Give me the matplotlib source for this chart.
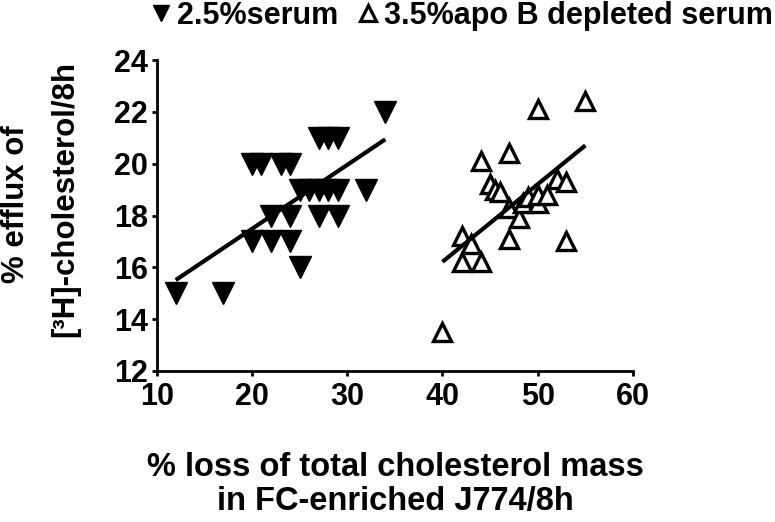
import numpy as np
import matplotlib
matplotlib.use("Agg")
import matplotlib.pyplot as plt
from matplotlib.lines import Line2D

plt.rcParams['font.family'] = ['Liberation Sans', 'DejaVu Sans']
plt.rcParams['font.weight'] = 'bold'

# 2.5% serum (filled, down triangles)
serum_x = [12, 17, 20, 21, 23, 24, 27, 28, 29, 25, 26, 27, 28, 29, 32,
           22, 24, 27, 29, 20, 22, 24, 25, 34]
serum_y = [15, 15, 20, 20, 20, 20, 21, 21, 21, 19, 19, 19, 19, 19, 19,
           18, 18, 18, 18, 17, 17, 17, 16, 22]

# 3.5% apo B depleted serum (open, up triangles)
apob_x = [40, 42, 42, 43, 44, 44, 45, 45.5, 46, 47, 47, 47, 48, 48.5, 49,
          50, 50, 50, 51, 52, 53, 53, 55]
apob_y = [13.5, 16.2, 17.2, 16.9, 16.2, 20.1, 19.2, 19.0, 18.9, 20.4, 18.3, 17.1,
          17.9, 18.5, 18.7, 18.5, 18.8, 22.1, 18.8, 19.4, 19.3, 17.0, 22.4]

x_ticks = [10, 20, 30, 40, 50, 60]
y_ticks = [12, 14, 16, 18, 20, 22, 24]

W, H = 775, 522
fig = plt.figure(figsize=(W / 100, H / 100), dpi=100)
ax = fig.add_axes([156.7 / W, 1 - 371 / H, (633 - 156.7) / W, (371 - 60) / H])

ax.plot(serum_x, serum_y, linestyle='none', marker='v', markersize=16,
        color='black', clip_on=False)
ax.plot(apob_x, apob_y, linestyle='none', marker='^', markersize=13,
        markerfacecolor='white', markeredgecolor='black', markeredgewidth=2.4,
        clip_on=False)

# linear regression lines
for xs, ys in ((serum_x, serum_y), (apob_x, apob_y)):
    xs = np.array(xs, float); ys = np.array(ys, float)
    k, b = np.polyfit(xs, ys, 1)
    xx = np.array([xs.min(), xs.max()])
    ax.plot(xx, k * xx + b, color='black', linewidth=3, solid_capstyle='butt')

ax.set_xlim(10, 60)
ax.set_ylim(12, 24)
ax.set_xticks(x_ticks)
ax.set_yticks(y_ticks)
for s in ('top', 'right'):
    ax.spines[s].set_visible(False)
for s in ('left', 'bottom'):
    ax.spines[s].set_linewidth(2.0)
ax.tick_params(width=2, length=3.6, labelsize=22)
ax.tick_params(axis='x', pad=4)
ax.tick_params(axis='y', pad=2.5)
for lab in ax.get_xticklabels() + ax.get_yticklabels():
    lab.set_fontweight('bold')

fig.text(395 / W, 1 - 452 / H,
         '% loss of total cholesterol mass\nin FC-enriched J774/8h',
         ha='center', va='top', fontsize=23.5, fontweight='bold', linespacing=1.12)
fig.text(16.5 / W, 1 - 204 / H, '% efflux of', rotation=90, ha='center', va='center',
         fontsize=22.5, fontweight='bold')
fig.text(65 / W, 1 - 199 / H, '[³H]-cholesterol/8h', rotation=90,
         ha='center', va='center', fontsize=22.5, fontweight='bold')

handles = [Line2D([], [], linestyle='none', marker='v', markersize=12, color='black'),
           Line2D([], [], linestyle='none', marker='^', markersize=11,
                  markerfacecolor='white', markeredgecolor='black', markeredgewidth=2.3)]
fig.legend(handles, ['2.5%serum', '3.5%apo B depleted serum'], ncol=2,
           loc='center', bbox_to_anchor=(463 / W, 1 - 16 / H), frameon=False,
           prop={'size': 22, 'weight': 'bold'}, handletextpad=0.25,
           columnspacing=0.7, handlelength=0.55, borderpad=0, borderaxespad=0)

fig.savefig('out.png', dpi=100)
